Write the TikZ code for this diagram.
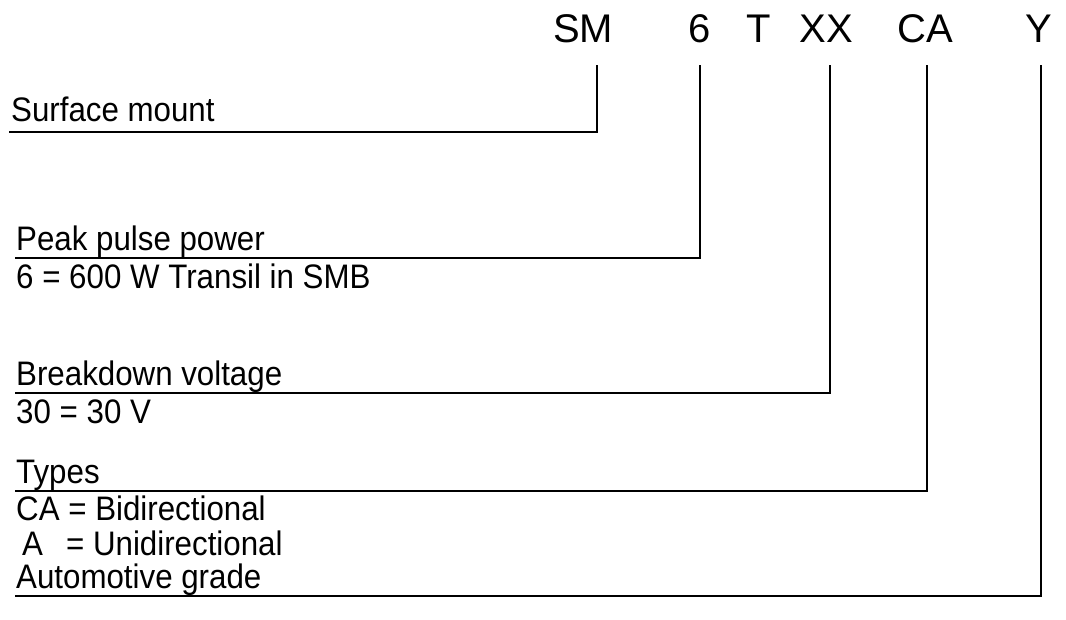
\documentclass[tikz,border=0pt]{standalone}
\usepackage{fontspec}
\setmainfont{Liberation Sans}
\newfontfamily\lblfont[FakeStretch=0.92]{Liberation Sans}
\usepackage{tikz}

\tikzset{
  code/.style={font=\fontsize{40}{48}\selectfont, anchor=base, inner sep=0pt},
  lbl/.style={font=\lblfont\fontsize{34}{40}\selectfont, anchor=base west, inner sep=0pt},
  lead/.style={line width=2.4pt, line cap=rect}
}

\begin{document}
\begin{tikzpicture}[x=1pt, y=-1pt]
  \useasboundingbox (0,0) rectangle (1066,619);
  % part number
  \node[code] (sm) at (583,42) {SM};
  \node[code] (pw) at (700,42) {6};
  \node[code] (tt) at (759,42) {T};
  \node[code] (xx) at (826,42) {XX};
  \node[code] (ca) at (925,42) {CA};
  \node[code] (yy) at (1039,42) {Y};
  % descriptions
  \node[lbl] (mount) at (11,121) {Surface mount};
  \node[lbl] (peak) at (16,250) {Peak pulse power};
  \node[lbl] (peakv) at (16,288) {6 = 600 W Transil in SMB};
  \node[lbl] (brk) at (16,385) {Breakdown voltage};
  \node[lbl] (brkv) at (16,423) {30 = 30 V};
  \node[lbl] (types) at (16,483) {Types};
  \node[lbl] (bidir) at (16,520) {CA = Bidirectional};
  \node[lbl] (unidir) at (22,555) {A\ \ \,= Unidirectional};
  \node[lbl] (auto) at (16,588) {Automotive grade};
  % leader lines
  \coordinate (smtop) at (597,66);
  \coordinate (pwtop) at (700,66);
  \coordinate (xxtop) at (830,66);
  \coordinate (catop) at (927,66);
  \coordinate (yytop) at (1041,66);
  \coordinate (mountend) at (10,132);
  \coordinate (peakend) at (16,258);
  \coordinate (brkend) at (16,393);
  \coordinate (typesend) at (16,491);
  \coordinate (autoend) at (16,596);
  \draw[lead] (smtop) |- (mountend);
  \draw[lead] (pwtop) |- (peakend);
  \draw[lead] (xxtop) |- (brkend);
  \draw[lead] (catop) |- (typesend);
  \draw[lead] (yytop) |- (autoend);
\end{tikzpicture}
\end{document}
